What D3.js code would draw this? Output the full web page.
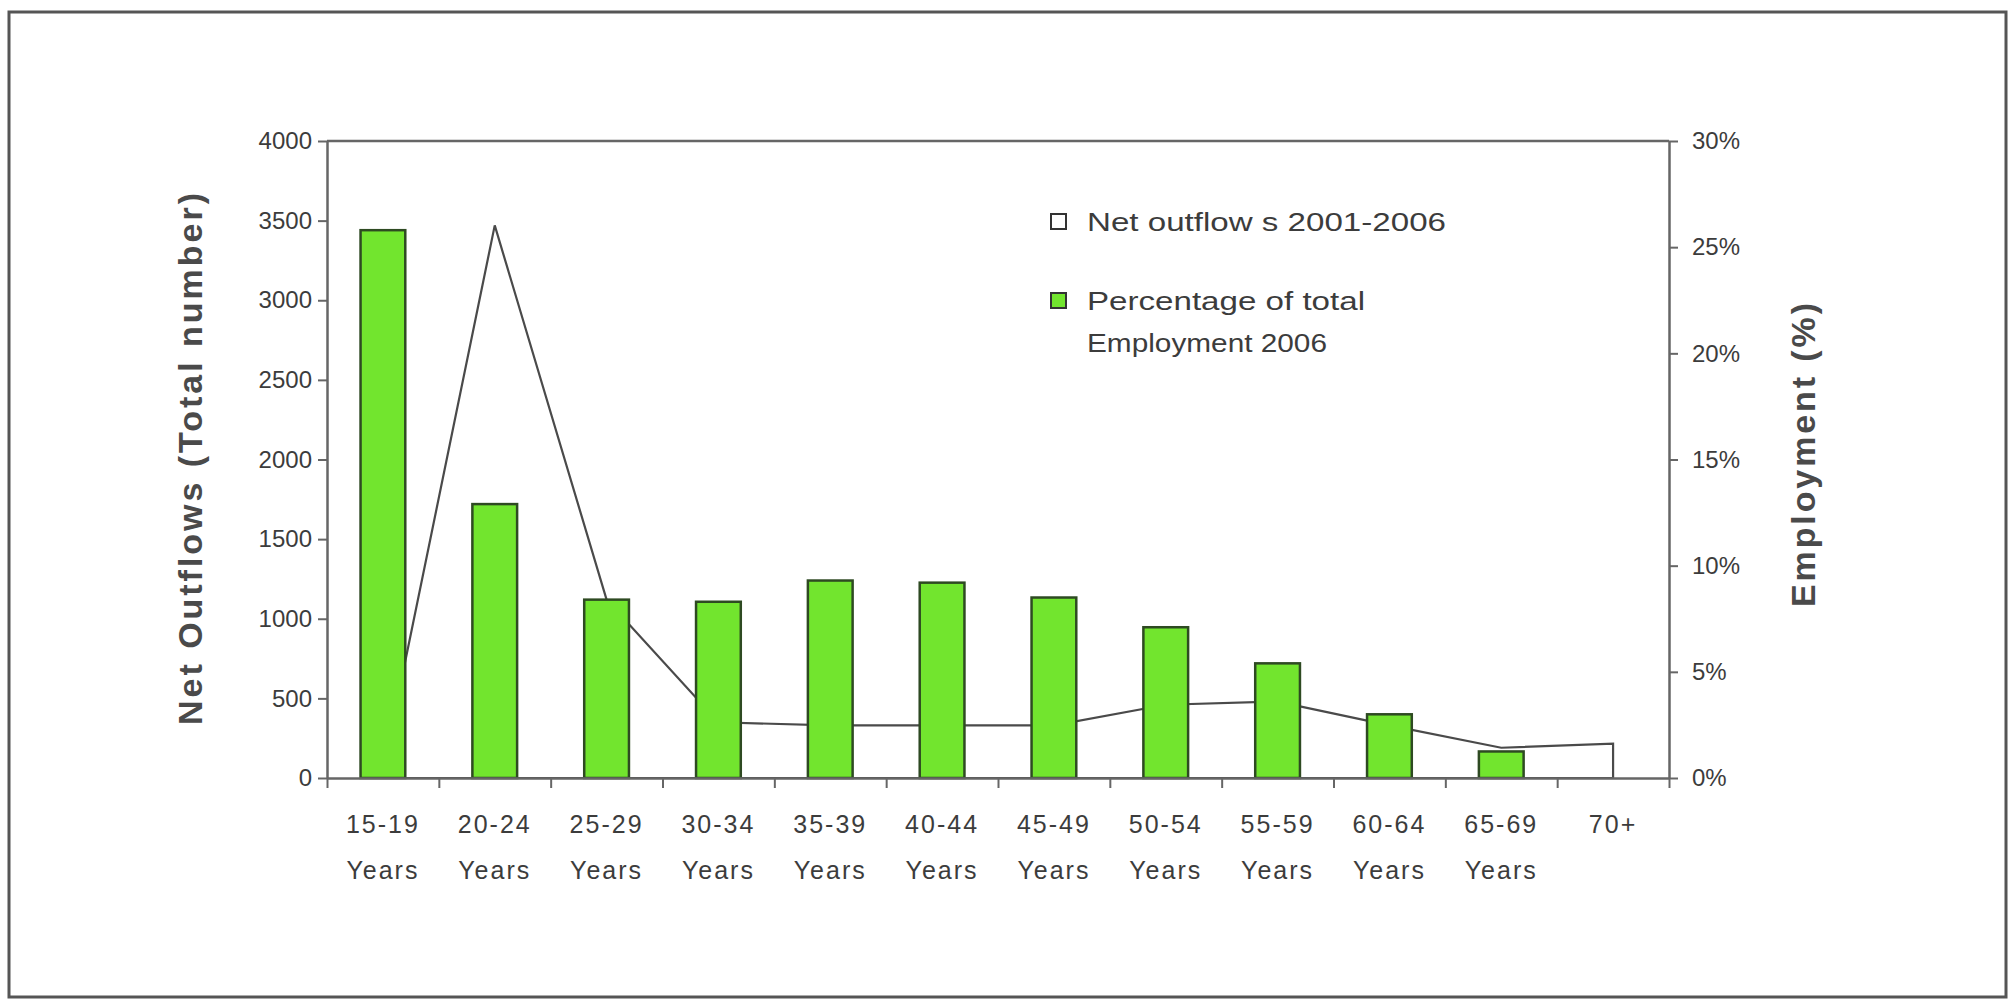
<!DOCTYPE html>
<html>
<head>
<meta charset="utf-8">
<script src="https://cdn.jsdelivr.net/npm/d3@7/dist/d3.min.js"></script>
<style>
  body { margin: 0; background: #fff; }
  svg { display: block; font-family: "Liberation Sans", Arial, sans-serif; }
</style>
</head>
<body>
<svg id="chart" width="2009" height="1000"></svg>
<script>
// age groups (second word goes on a second line)
const categories = ['15-19 Years', '20-24 Years', '25-29 Years', '30-34 Years', '35-39 Years', '40-44 Years',
  '45-49 Years', '50-54 Years', '55-59 Years', '60-64 Years', '65-69 Years', '70+'];
// net outflows 2001-2006, total number (left axis, white area)
const netOutflows = [50, 3470, 1120, 350, 330, 330, 330, 460, 480, 330, 190, 215];
// percentage of total employment 2006 (right axis, green bars)
const employmentPct = [25.8, 12.9, 8.4, 8.3, 9.3, 9.2, 8.5, 7.1, 5.4, 3.0, 1.25, null];
const leftTicks = [0, 500, 1000, 1500, 2000, 2500, 3000, 3500, 4000];
const rightTicks = [0, 5, 10, 15, 20, 25, 30];
const legendLabels = [['Net outflow s 2001-2006'], ['Percentage of total', 'Employment 2006']];
const legendWidths = [[359], [278, 240]];

const svg = d3.select('#chart');
const margin = { left: 327, right: 2009 - 1669, top: 141, bottom: 1000 - 778 };
const width = 2009 - margin.left - margin.right;
const height = 1000 - margin.top - margin.bottom;
const axisColor = '#666';
const textColor = '#3c3c3c';

// outer frame
svg.append('rect')
  .attr('x', 9).attr('y', 12)
  .attr('width', 1997).attr('height', 985)
  .attr('fill', '#fff')
  .attr('stroke', '#555')
  .attr('stroke-width', 3);

const g = svg.append('g').attr('transform', `translate(${margin.left},${margin.top})`);

const x = d3.scaleBand()
  .domain(categories)
  .range([0, width])
  .paddingInner(0.6)
  .paddingOuter(0.3);
const yLeft = d3.scaleLinear().domain([0, 4000]).range([height, 0]);
const yRight = d3.scaleLinear().domain([0, 30]).range([height, 0]);
const center = d => x(d) + x.bandwidth() / 2;

// net outflows as white area
const area = d3.area()
  .x((d, i) => center(categories[i]))
  .y0(yLeft(0))
  .y1(d => yLeft(d));

g.append('path')
  .datum(netOutflows)
  .attr('d', area)
  .attr('fill', '#fff')
  .attr('stroke', '#4a4a4a')
  .attr('stroke-width', 2.2)
  .attr('stroke-linejoin', 'miter');

// employment bars
g.selectAll('.bar')
  .data(employmentPct.map((v, i) => ({ cat: categories[i], v })).filter(d => d.v != null))
  .join('rect')
  .attr('class', 'bar')
  .attr('x', d => x(d.cat))
  .attr('y', d => yRight(d.v))
  .attr('width', x.bandwidth())
  .attr('height', d => height - yRight(d.v))
  .attr('fill', '#72e52e')
  .attr('stroke', '#2e4a22')
  .attr('stroke-width', 2.5);

// plot top border
g.append('line')
  .attr('x1', 0).attr('x2', width)
  .attr('y1', 0).attr('y2', 0)
  .attr('stroke', axisColor).attr('stroke-width', 2.5);

function styleAxis(sel) {
  sel.select('.domain').attr('stroke', axisColor).attr('stroke-width', 2.5);
  sel.selectAll('.tick line').attr('stroke', axisColor).attr('stroke-width', 2);
  sel.selectAll('.tick text')
    .attr('fill', textColor)
    .style('font-size', '24px');
}

// left axis
g.append('g')
  .call(d3.axisLeft(yLeft).tickValues(leftTicks).tickSize(9).tickPadding(6)
    .tickFormat(d3.format('d')).tickSizeOuter(0))
  .call(styleAxis);

// right axis
g.append('g')
  .attr('transform', `translate(${width},0)`)
  .call(d3.axisRight(yRight).tickValues(rightTicks).tickSize(9).tickPadding(14)
    .tickFormat(d => d + '%').tickSizeOuter(0))
  .call(styleAxis);

// bottom axis: ticks at category boundaries
const xEdges = d3.scaleLinear().domain([0, categories.length]).range([0, width]);
g.append('g')
  .attr('transform', `translate(0,${height})`)
  .call(d3.axisBottom(xEdges).ticks(categories.length).tickFormat('').tickSize(10).tickSizeOuter(0))
  .call(styleAxis);

// category labels
const labels = g.append('g')
  .selectAll('text')
  .data(categories)
  .join('text')
  .attr('x', d => center(d))
  .attr('y', height + 55)
  .attr('text-anchor', 'middle')
  .attr('fill', textColor)
  .style('font-size', '25px')
  .style('letter-spacing', '2px');
labels.each(function(d) {
  const parts = d.split(' ');
  d3.select(this).selectAll('tspan')
    .data(parts)
    .join('tspan')
    .attr('x', center(d))
    .attr('dy', (p, i) => i === 0 ? 0 : 46)
    .text(p => p);
});

// axis titles
svg.append('text')
  .attr('transform', 'translate(202,459) rotate(-90)')
  .attr('text-anchor', 'middle')
  .attr('fill', '#4a4a4a')
  .attr('font-weight', 'bold')
  .attr('textLength', 532)
  .attr('lengthAdjust', 'spacing')
  .style('font-size', '34px')
  .text('Net Outflows (Total number)');

svg.append('text')
  .attr('transform', 'translate(1815,455) rotate(-90)')
  .attr('text-anchor', 'middle')
  .attr('fill', '#4a4a4a')
  .attr('font-weight', 'bold')
  .attr('textLength', 304)
  .attr('lengthAdjust', 'spacing')
  .style('font-size', '34px')
  .text('Employment (%)');

// legend
const legend = svg.append('g').attr('transform', 'translate(1051,0)');
const legendY = [222, 301];
const legendFill = ['#fff', '#72e52e'];
legendLabels.forEach((lines, i) => {
  legend.append('rect')
    .attr('x', 0).attr('y', legendY[i] - 8)
    .attr('width', 15).attr('height', 15)
    .attr('fill', legendFill[i])
    .attr('stroke', '#333')
    .attr('stroke-width', 2);
  lines.forEach((line, j) => {
    legend.append('text')
      .attr('x', 36)
      .attr('y', legendY[i] + 9 + j * 42)
      .attr('fill', textColor)
      .attr('textLength', legendWidths[i][j])
      .attr('lengthAdjust', 'spacingAndGlyphs')
      .style('font-size', '25px')
      .text(line);
  });
});
</script>
</body>
</html>
